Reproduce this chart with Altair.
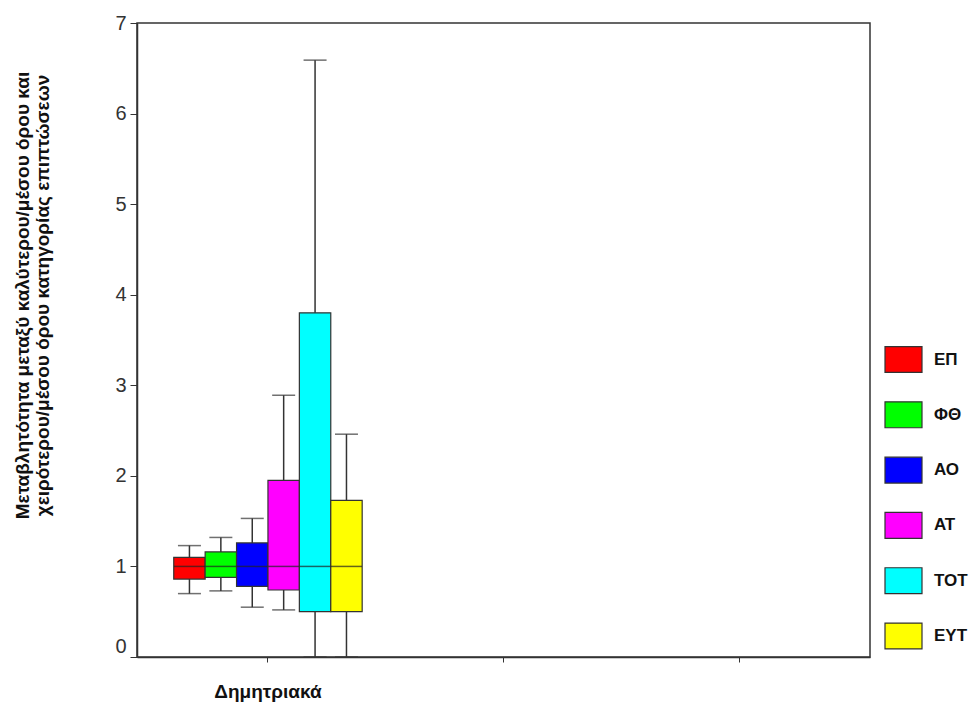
import altair as alt
import pandas as pd

series = ["ΕΠ", "ΦΘ", "ΑΟ", "ΑΤ", "ΤΟΤ", "ΕΥΤ"]
colors = ["#FF0000", "#00FF00", "#0000FF", "#FF00FF", "#00FFFF", "#FFFF00"]
lower = [0.70, 0.73, 0.55, 0.52, 0.0, 0.0]
q1 = [0.86, 0.88, 0.78, 0.74, 0.50, 0.50]
median = [1.0, 1.0, 1.0, 1.0, 1.0, 1.0]
q3 = [1.10, 1.16, 1.26, 1.95, 3.80, 1.73]
upper = [1.23, 1.32, 1.53, 2.89, 6.59, 2.46]
category = "Δημητριακά"
categories = [category, "κενό1", "κενό2"]
y_ticks = [0, 1, 2, 3, 4, 5, 6, 7]

df = pd.DataFrame({
    "cat": [category] * len(series),
    "series": series,
    "lower": lower, "q1": q1, "median": median, "q3": q3, "upper": upper,
})

W, H = 733, 634

x = alt.X("cat:N", scale=alt.Scale(domain=categories, paddingInner=0.2, paddingOuter=0.156),
          axis=alt.Axis(title=None, labelExpr=f"datum.value == '{category}' ? datum.value : ''",
                        labelAngle=0, labelFont="Liberation Sans", labelFontWeight="bold",
                        labelFontSize=19, labelColor="#111", labelPadding=20, tickSize=5,
                        tickColor="#333", domainColor="#333", domainWidth=1.5, labelBaseline="top"))
xo = alt.XOffset("series:N", scale=alt.Scale(domain=series, paddingInner=0, paddingOuter=0))
color = alt.Color("series:N", scale=alt.Scale(domain=series, range=colors),
                  legend=alt.Legend(title=None, orient="none", legendX=747, legendY=317,
                                    symbolType="M-1,-0.7H1V0.7H-1Z", symbolSize=1369,
                                    symbolStrokeColor="#333", symbolStrokeWidth=1.2,
                                    symbolOpacity=1, labelFont="Liberation Sans",
                                    labelFontWeight="bold", labelFontSize=17, labelColor="#111",
                                    labelOffset=11, rowPadding=20.3, padding=0))

yscale = alt.Scale(domain=[0, 7], nice=False, zero=True)
yaxis = alt.Axis(title=["Μεταβλητότητα μεταξύ καλύτερου/μέσου όρου και",
                        "χειρότερου/μέσου όρου κατηγορίας επιπτώσεων"],
                 values=y_ticks, format="d", grid=False, labelFont="Liberation Sans", labelFontSize=20,
                 labelColor="#333", tickSize=7, labelPadding=4, tickColor="#333",
                 domainColor="#333", domainWidth=1.5,
                 labelOffset=alt.condition("datum.value == 0", alt.value(-11), alt.value(0)),
                 titleFont="Liberation Sans", titleFontWeight="bold", titleFontSize=19,
                 titleColor="#111", titleAngle=-90, titleX=-115, titleY=272,
                 titleAlign="center", titleBaseline="middle", titleLineHeight=20)

base = alt.Chart(df)

whisk = base.mark_rule(color="#333", strokeWidth=1.5).encode(
    x=x, xOffset=xo, y=alt.Y("lower:Q", scale=yscale, axis=yaxis), y2="upper:Q")
box = base.mark_bar(stroke="#333", strokeWidth=1.2, opacity=1).encode(
    x=x, xOffset=xo, y=alt.Y("q1:Q", scale=yscale), y2="q3:Q", color=color)
med = base.mark_tick(color="#222", thickness=1.5, size=31).encode(
    x=x, xOffset=xo, y=alt.Y("median:Q", scale=yscale))
cap_hi = base.mark_tick(color="#333", thickness=1.5, size=23).encode(
    x=x, xOffset=xo, y=alt.Y("upper:Q", scale=yscale))
cap_lo = base.mark_tick(color="#333", thickness=1.5, size=23).encode(
    x=x, xOffset=xo, y=alt.Y("lower:Q", scale=yscale))

chart = alt.layer(whisk, box, med, cap_hi, cap_lo).properties(
    width=W, height=H,
    autosize=alt.AutoSizeParams(type="none"),
    padding={"left": 137, "top": 23, "right": 109, "bottom": 45},
    background="white",
).configure_view(stroke="#333", strokeWidth=1.5)

chart.save("out.html", embed_options={"renderer": "svg", "actions": False})
